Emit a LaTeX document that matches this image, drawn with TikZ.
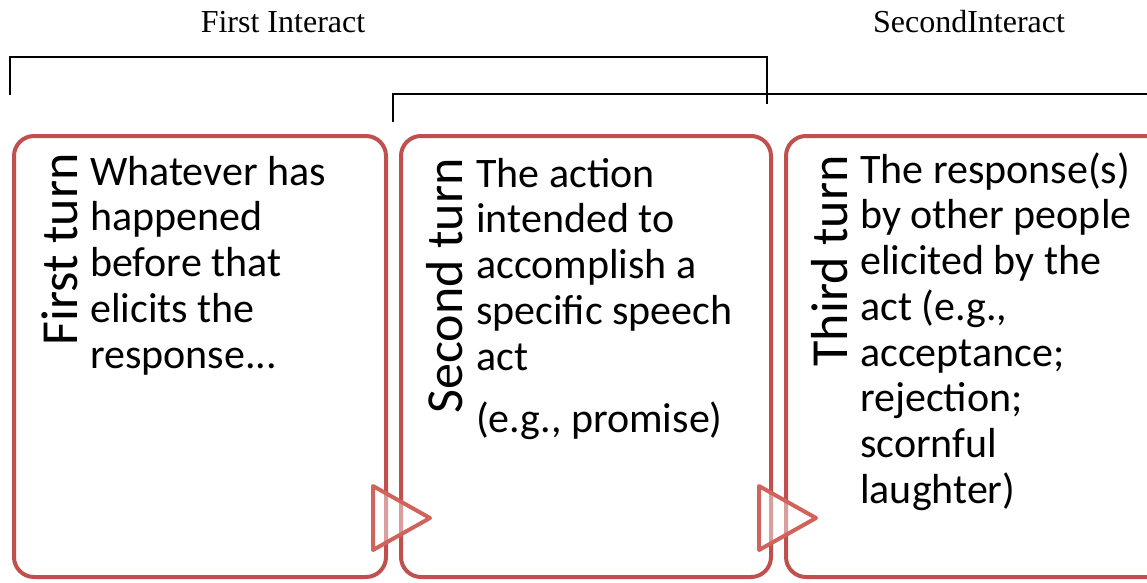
\documentclass[tikz,border=0pt]{standalone}
\usepackage{fontspec}
\newfontfamily\calib{Carlito}
\newfontfamily\tms{Liberation Serif}
\definecolor{boxred}{RGB}{192,80,77}
\definecolor{trired}{RGB}{209,99,93}
\begin{document}
\begin{tikzpicture}[x=1pt,y=-1pt,
  turnbox/.style={draw=boxred,line width=4pt,fill=white,rounded corners=20pt,inner sep=0pt},
  tri/.style={draw=trired,line width=4pt,fill=white,fill opacity=0.45,line join=round},
  bracket/.style={draw=black,line width=1.3pt},
  toplbl/.style={font=\tms\fontsize{32}{36}\selectfont,inner sep=0pt,anchor=base},
  turnlbl/.style={font=\calib\fontsize{52}{60}\selectfont,inner sep=0pt,rotate=90,anchor=base east},
  body/.style={inner sep=0pt,anchor=base west}]
\useasboundingbox (0,0) rectangle (1147,582);
% boxes
\node[turnbox,minimum width=372pt,minimum height=441pt] (b1) at (200,356.5) {};
\node[turnbox,minimum width=370pt,minimum height=441pt] (b2) at (586,356.5) {};
\node[turnbox,minimum width=384pt,minimum height=441pt] (b3) at (978,356.5) {};
% rotated labels
\node[turnlbl] (l1) at (77,153) {First turn};
\node[turnlbl] (l2) at (462,158) {Second turn};
\node[turnlbl] (l3) at (847,155) {Third turn};
% body texts
\node[body] (t1) at (90,185) {\parbox[t]{290pt}{\calib\fontsize{42}{45.75}\selectfont\raggedright
Whatever has\\happened\\before that\\elicits the\\response...}};
\node[body] (t2) at (476,187) {\parbox[t]{290pt}{\calib\fontsize{42}{45.75}\selectfont\raggedright
The action\\intended to\\accomplish a\\specific speech\\act\\[17pt](e.g., promise)}};
\node[body] (t3) at (860,183) {\parbox[t]{290pt}{\calib\fontsize{42}{45.75}\selectfont\raggedright
The response(s)\\by other people\\elicited by the\\act (e.g.,\\acceptance;\\rejection;\\scornful\\laughter)}};
% triangles between boxes
\coordinate (a1t) at (373,486);
\coordinate (a1p) at (430,518);
\coordinate (a1b) at (373,550);
\coordinate (a2t) at (759,486);
\coordinate (a2p) at (816,518);
\coordinate (a2b) at (759,550);
\draw[tri] (a1t) -- (a1p) -- (a1b) -- cycle;
\draw[tri] (a2t) -- (a2p) -- (a2b) -- cycle;
% brackets
\coordinate (k1a) at (10,95);
\coordinate (k1b) at (10,57);
\coordinate (k1c) at (767,57);
\coordinate (k1d) at (767,104);
\coordinate (k2a) at (393,122);
\coordinate (k2b) at (393,94);
\coordinate (k2c) at (1150,94);
\draw[bracket] (k1a) -- (k1b) -- (k1c) -- (k1d);
\draw[bracket] (k2a) -- (k2b) -- (k2c);
% top labels
\node[toplbl] (fi) at (283,32) {First Interact};
\node[toplbl] (si) at (969,32) {SecondInteract};
\end{tikzpicture}
\end{document}
